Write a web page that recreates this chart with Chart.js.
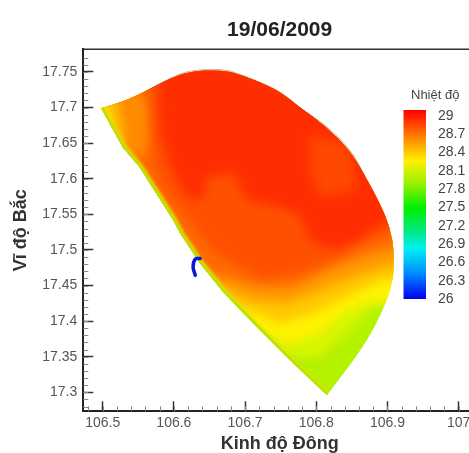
<!DOCTYPE html>
<html lang="vi">
<head>
<meta charset="utf-8">
<title>Nhiệt độ 19/06/2009</title>
<script src="https://cdn.jsdelivr.net/npm/chart.js@4"></script>
<style>
  html, body { margin: 0; padding: 0; background: #fff; overflow: hidden; }
  canvas { display: block; filter: blur(0.45px); }
</style>
</head>
<body>
<canvas id="map" width="476" height="453"></canvas>
<script>
const chartTitle = "19/06/2009";
const xTitle = "Kinh độ Đông";
const yTitle = "Vĩ độ Bắc";
const legendTitle = "Nhiệt độ";

const xTicks = [106.5, 106.6, 106.7, 106.8, 106.9, 107];
const yTicks = [17.3, 17.35, 17.4, 17.45, 17.5, 17.55, 17.6, 17.65, 17.7, 17.75];
const legendTicks = [29, 28.7, 28.4, 28.1, 27.8, 27.5, 27.2, 26.9, 26.6, 26.3, 26];

// colour scale, temperature -> colour
const scaleValues = [29.1, 28.63, 28.44, 28.27, 27.92, 27.49, 27.1, 26.83, 26.44, 26];
const scaleColors = ["#ff0000", "#ff8800", "#ffc000", "#fff000", "#a0f000", "#00f000", "#00e888", "#00f0f0", "#0090ff", "#0000f0"];

// domain outline [lon, lat]
const outline = [
  [106.498, 17.699], [106.5285, 17.708], [106.562, 17.724], [106.595, 17.741], [106.623, 17.751],
  [106.669, 17.753], [106.697, 17.745], [106.731, 17.731], [106.752, 17.72], [106.777, 17.7],
  [106.812, 17.675], [106.847, 17.64], [106.868, 17.605], [106.889, 17.566], [106.9035, 17.532],
  [106.91, 17.495], [106.908, 17.457], [106.894, 17.415], [106.866, 17.363], [106.815, 17.296],
  [106.763, 17.345], [106.717, 17.391], [106.669, 17.441], [106.637, 17.481], [106.609, 17.523],
  [106.599, 17.542], [106.552, 17.616], [106.5285, 17.644]
];
const northEastEdge = outline.slice(2, 13);
const coast = [
  [106.815, 17.296], [106.763, 17.345], [106.717, 17.391], [106.669, 17.441], [106.637, 17.481],
  [106.609, 17.523], [106.599, 17.542], [106.552, 17.616], [106.5285, 17.644], [106.498, 17.699]
];
const blueHook = [[106.637, 17.488], [106.63, 17.487], [106.627, 17.476], [106.63, 17.4645]];

// temperature zones, coolest first
const zoneBase = [[106.4, 17.2], [107.1, 17.2], [107.1, 17.8], [106.4, 17.8]];
const zoneLime = [[106.45, 17.349], [106.749, 17.349], [106.805, 17.349], [106.843, 17.383], [106.88, 17.42], [106.95, 17.429], [106.95, 17.8], [106.45, 17.8]];
const zoneYellow = [[106.45, 17.387], [106.717, 17.387], [106.763, 17.369], [106.805, 17.383], [106.8375, 17.411], [106.866, 17.425], [106.95, 17.436], [106.95, 17.8], [106.45, 17.8]];
const zoneAmber = [[106.45, 17.42], [106.693, 17.42], [106.749, 17.397], [106.795, 17.411], [106.843, 17.434], [106.8895, 17.457], [106.95, 17.4645], [106.95, 17.8], [106.45, 17.8]];
const zoneOrange = [[106.45, 17.448], [106.665, 17.448], [106.711, 17.429], [106.759, 17.425], [106.805, 17.443], [106.8515, 17.462], [106.95, 17.493], [106.95, 17.8], [106.45, 17.8]];
const zoneDeep = [[106.45, 17.4715], [106.644, 17.4715], [106.669, 17.462], [106.717, 17.448], [106.767, 17.448], [106.815, 17.4715], [106.861, 17.49], [106.95, 17.516], [106.95, 17.8], [106.45, 17.8]];
const cornerOrange = [[106.489, 17.717], [106.545, 17.731], [106.566, 17.696], [106.564, 17.64], [106.545, 17.626], [106.524, 17.64], [106.489, 17.689]];
const cornerAmber = [[106.485, 17.71], [106.5215, 17.713], [106.531, 17.668], [106.531, 17.633], [106.485, 17.682]];
const cornerYellow = [[106.485, 17.704], [106.506, 17.706], [106.5145, 17.668], [106.524, 17.64], [106.485, 17.69]];
const zoneWarm = [
  [106.566, 17.8], [106.95, 17.8], [106.95, 17.535], [106.906, 17.525], [106.861, 17.509], [106.826, 17.488],
  [106.777, 17.469], [106.728, 17.46], [106.686, 17.4785], [106.6535, 17.4996], [106.6156, 17.549],
  [106.5875, 17.584], [106.5735, 17.612], [106.569, 17.668]
];
const zoneHot = [
  [106.578, 17.8], [106.95, 17.8], [106.95, 17.549], [106.8965, 17.539], [106.861, 17.514], [106.826, 17.4996],
  [106.791, 17.514], [106.777, 17.549], [106.749, 17.56], [106.703, 17.57], [106.683, 17.608], [106.6465, 17.602],
  [106.641, 17.57], [106.618, 17.574], [106.5945, 17.619], [106.5805, 17.668], [106.578, 17.71]
];
const patchWarm = [[106.791, 17.661], [106.847, 17.647], [106.857, 17.584], [106.805, 17.574], [106.791, 17.612]];

const zones = [
  [zoneBase, "#b4f200"], [zoneLime, "#d8f500"], [zoneYellow, "#fff200"], [zoneAmber, "#ffc800"],
  [zoneOrange, "#ff9a00"], [zoneDeep, "#ff6a00"], [cornerOrange, "#ff8a00"], [cornerAmber, "#ffb800"],
  [cornerYellow, "#fff000"], [zoneWarm, "#ff5000"], [zoneHot, "#ff2e00"], [patchWarm, "#ff4800"]
];

const toXY = pts => pts.map(p => ({ x: p[0], y: p[1] }));

const datasets = zones.map(z => ({
  data: toXY(z[0]),
  showLine: true,
  fill: "shape",
  backgroundColor: z[1],
  borderWidth: 0,
  pointRadius: 0,
  tension: 0,
}));
const zoneCount = datasets.length;
datasets.push({ data: toXY(coast), showLine: true, borderColor: "#ffd800", borderWidth: 7, pointRadius: 0 });
datasets.push({ data: toXY(coast), showLine: true, borderColor: "#98ea00", borderWidth: 4, pointRadius: 0 });
const softCount = datasets.length;
datasets.push({ data: toXY(northEastEdge), showLine: true, borderColor: "rgba(110,40,0,0.35)", borderWidth: 1, pointRadius: 0, tension: 0.4 });
datasets.push({ data: toXY(blueHook), showLine: true, borderColor: "#0818d8", borderWidth: 3.5, borderCapStyle: "round", pointRadius: 0, tension: 0.4 });
datasets.forEach((d, i) => { d.order = -i; });

// clip the zones to the outline and soften their edges
const softZones = {
  id: "softZones",
  beforeDatasetsDraw(chart) {
    const { ctx, scales } = chart;
    const pts = outline.map(p => [scales.x.getPixelForValue(p[0]), scales.y.getPixelForValue(p[1])]);
    ctx.save();
    ctx.beginPath();
    ctx.moveTo(pts[0][0], pts[0][1]);
    // rounded along the north-east edge, straight on the coast
    for (let i = 1; i < 19; i++) {
      ctx.quadraticCurveTo(pts[i][0], pts[i][1], (pts[i][0] + pts[i + 1][0]) / 2, (pts[i][1] + pts[i + 1][1]) / 2);
    }
    for (let i = 19; i < pts.length; i++) ctx.lineTo(pts[i][0], pts[i][1]);
    ctx.closePath();
    ctx.clip();
    ctx.filter = "blur(5px)";
  },
  afterDatasetDraw(chart, args) {
    if (args.index === zoneCount - 1) chart.ctx.filter = "blur(1.5px)";
    if (args.index === softCount - 1) chart.ctx.restore();
  },
};

const frameAndLegend = {
  id: "frameAndLegend",
  afterDraw(chart) {
    const { ctx, chartArea: a, scales } = chart;
    ctx.save();
    // top line
    ctx.strokeStyle = "#333";
    ctx.lineWidth = 1.5;
    ctx.beginPath();
    ctx.moveTo(a.left, a.top);
    ctx.lineTo(a.right, a.top);
    ctx.stroke();
    // minor ticks
    ctx.strokeStyle = "#888";
    ctx.lineWidth = 1;
    ctx.beginPath();
    for (let v = 106.48; v < 107.02; v += 0.02) {
      const px = Math.round(scales.x.getPixelForValue(v)) + 0.5;
      ctx.moveTo(px, a.bottom);
      ctx.lineTo(px, a.bottom - 5);
    }
    for (let v = 17.28; v < 17.78; v += 0.01) {
      const py = Math.round(scales.y.getPixelForValue(v)) + 0.5;
      ctx.moveTo(a.left, py);
      ctx.lineTo(a.left + 5, py);
    }
    ctx.stroke();
    // colour bar
    const yOf = v => 299 - (v - 26) * 61;
    const top = 110, bottom = 299;
    const grad = ctx.createLinearGradient(0, top, 0, bottom);
    scaleValues.forEach((v, i) => {
      grad.addColorStop(Math.min(1, Math.max(0, (yOf(v) - top) / (bottom - top))), scaleColors[i]);
    });
    ctx.fillStyle = grad;
    ctx.fillRect(403.5, top, 22.5, bottom - top);
    ctx.fillStyle = "#444";
    ctx.textBaseline = "middle";
    ctx.font = "13px 'Liberation Sans', Arial, sans-serif";
    ctx.fillText(legendTitle, 411, 95);
    ctx.font = "14px 'Liberation Sans', Arial, sans-serif";
    legendTicks.forEach(v => ctx.fillText(String(v), 438, yOf(v)));
    ctx.restore();
  },
};

new Chart(document.getElementById("map"), {
  type: "scatter",
  data: { datasets },
  plugins: [softZones, frameAndLegend],
  options: {
    responsive: false,
    animation: false,
    layout: { autoPadding: false },
    plugins: {
      legend: { display: false },
      tooltip: { enabled: false },
      title: {
        display: true,
        fullSize: false,
        text: chartTitle,
        color: "#222",
        font: { family: "'Liberation Sans', Arial, sans-serif", size: 21, weight: "bold" },
        padding: { top: 18, bottom: 6 },
      },
    },
    scales: {
      x: {
        type: "linear",
        min: 106.4728,
        max: 107.0243,
        afterBuildTicks: s => { s.ticks = xTicks.map(v => ({ value: v })); },
        afterFit: s => { s.height = 41.7; s.paddingLeft = 0; s.paddingRight = 0; },
        ticks: {
          autoSkip: false,
          maxRotation: 0,
          padding: 13,
          color: "#555",
          font: { family: "'Liberation Sans', Arial, sans-serif", size: 14 },
          callback: v => String(v),
        },
        grid: { drawOnChartArea: false, tickLength: -10, tickColor: "#333", tickWidth: 1.5 },
        border: { color: "#222", width: 2 },
        title: {
          display: true,
          text: xTitle,
          color: "#333",
          font: { family: "'Liberation Sans', Arial, sans-serif", size: 18, weight: "bold" },
          padding: { top: 0, bottom: -2 },
        },
      },
      y: {
        type: "linear",
        min: 17.2733,
        max: 17.782,
        afterBuildTicks: s => { s.ticks = yTicks.map(v => ({ value: v })); },
        afterFit: s => { s.width = 83.3; s.paddingTop = 0; s.paddingBottom = 0; },
        ticks: {
          autoSkip: false,
          padding: 16,
          color: "#555",
          font: { family: "'Liberation Sans', Arial, sans-serif", size: 14 },
          callback: v => String(v),
        },
        grid: { drawOnChartArea: false, tickLength: -10, tickColor: "#333", tickWidth: 1.5 },
        border: { color: "#222", width: 2 },
        title: {
          display: true,
          text: yTitle,
          color: "#333",
          font: { family: "'Liberation Sans', Arial, sans-serif", size: 18, weight: "bold" },
          padding: { top: 10, bottom: 0 },
        },
      },
    },
  },
});
</script>
</body>
</html>
